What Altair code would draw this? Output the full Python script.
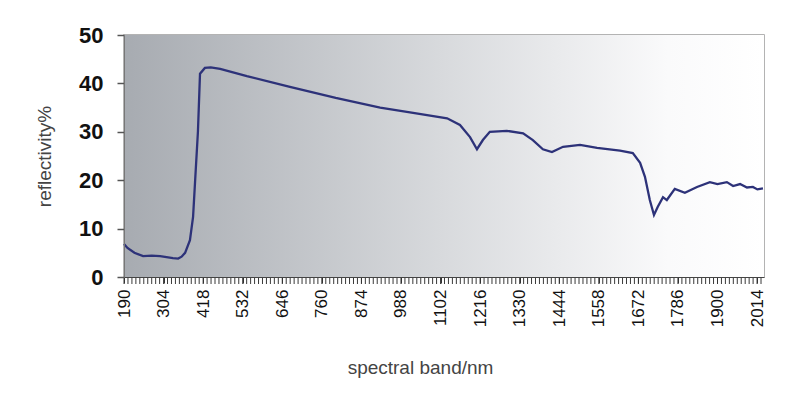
import altair as alt
import pandas as pd

wavelength = [190, 200, 220, 245, 270, 294, 331, 346, 356, 366, 380, 389, 395, 403, 409, 423, 440,
              467, 544, 668, 800, 928, 1023, 1121, 1158, 1187, 1207, 1224, 1244, 1293, 1340, 1368,
              1397, 1423, 1455, 1504, 1553, 1619, 1656, 1677, 1691, 1705, 1717, 1728, 1743, 1754,
              1777, 1806, 1841, 1878, 1900, 1927, 1945, 1965, 1985, 2002, 2015, 2031]
reflectivity = [6.8, 6.0, 5.0, 4.3, 4.4, 4.3, 3.9, 3.8, 4.2, 5.0, 7.6, 12.4, 20.0, 30.0, 42.0, 43.2, 43.3,
                43.0, 41.5, 39.3, 37.0, 35.0, 33.9, 32.8, 31.4, 28.9, 26.4, 28.3, 30.0, 30.2, 29.7, 28.3,
                26.4, 25.8, 26.9, 27.3, 26.7, 26.1, 25.6, 23.6, 20.7, 15.9, 12.8, 14.5, 16.5, 15.9,
                18.2, 17.4, 18.6, 19.6, 19.2, 19.6, 18.8, 19.2, 18.5, 18.6, 18.1, 18.3]
major_ticks = [190, 304, 418, 532, 646, 760, 874, 988, 1102, 1216, 1330, 1444, 1558, 1672, 1786, 1900, 2014]
minor_ticks = [round(190 + 11.4 * i, 1) for i in range(162)]
y_ticks = [0, 10, 20, 30, 40, 50]

df = pd.DataFrame({"nm": wavelength, "r": reflectivity})
W, H = 640, 242
FONT = "Liberation Sans"
xscale = alt.Scale(domain=[190, 2034], nice=False, zero=False)
yscale = alt.Scale(domain=[0, 50], nice=False)

xaxis = alt.Axis(values=major_ticks, labelAngle=270, labelFontSize=17, labelFont=FONT,
                 format="d", labelOverlap=False, labelBound=False, labelFlush=False,
                 labelColor="#111", labelPadding=6, ticks=True, tickSize=6, tickColor="#333",
                 tickWidth=1, domain=True, domainColor="#444", domainWidth=1, grid=False,
                 orient="bottom", title="spectral band/nm", zindex=5,
                 titleFont=FONT, titleFontSize=19, titleFontWeight="normal",
                 titleColor="#444", titlePadding=32, titleX=296)
yaxis = alt.Axis(values=y_ticks, labelFontSize=22, labelFontWeight="bold",
                 labelFont=FONT, labelColor="#111", labelPadding=14, ticks=True, tickSize=7,
                 tickWidth=1.5, tickColor="#555", domainColor="#777", grid=False, orient="left",
                 zindex=5, title="reflectivity%", titleFont=FONT, titleFontSize=19,
                 titleFontWeight="normal", titleColor="#444", titlePadding=24)

bg = alt.Chart(pd.DataFrame({"a": [0]})).mark_rect(
    fill={"gradient": "linear", "x1": 0, "x2": 1, "y1": 0, "y2": 0,
          "stops": [{"offset": 0, "color": "#a7abb1"},
                    {"offset": 0.5, "color": "#d8dadd"},
                    {"offset": 0.85, "color": "#fafafb"},
                    {"offset": 1, "color": "#ffffff"}]}
).encode(x=alt.value(0), x2=alt.value(W), y=alt.value(0), y2=alt.value(H))

line = alt.Chart(df).mark_line(color="#2d3279", strokeWidth=2.3).encode(
    x=alt.X("nm:Q", scale=xscale, axis=xaxis),
    y=alt.Y("r:Q", scale=yscale, axis=yaxis),
)

xt = alt.Chart(pd.DataFrame({"nm": minor_ticks})).mark_tick(
    color="#3a3a3a", thickness=1, size=7, opacity=1, clip=False
).encode(
    x=alt.X("nm:Q", scale=xscale, axis=xaxis),
    y=alt.value(H + 3.5),
)

chart = alt.layer(bg, line, xt).properties(
    width=W, height=H,
    autosize=alt.AutoSizeParams(type="none"),
    padding={"left": 116, "top": 27, "right": 28, "bottom": 111},
).configure_view(stroke="#9a9a9a", strokeWidth=1.5)

chart.save("out.html", embed_options={"renderer": "svg", "actions": False})
